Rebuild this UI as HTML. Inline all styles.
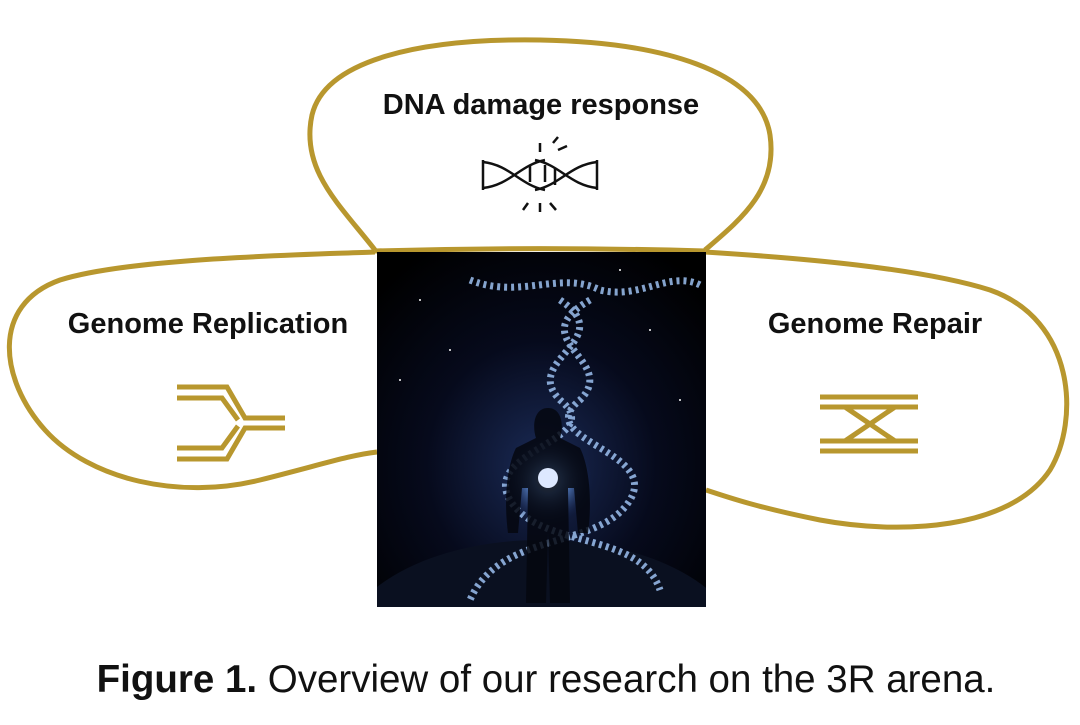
<!DOCTYPE html>
<html><head><style>
body{margin:0;width:1080px;height:720px;background:#fff;overflow:hidden;font-family:"Liberation Sans",sans-serif;}
</style></head><body>
<svg width="1080" height="720" viewBox="0 0 1080 720">
<defs>
<clipPath id="cp"><rect x="377" y="252" width="329" height="355"/></clipPath>
<radialGradient id="g1" cx="0.5" cy="0.6" r="0.7">
<stop offset="0" stop-color="#1a2a55"/><stop offset="0.5" stop-color="#060a1c"/><stop offset="1" stop-color="#000"/>
</radialGradient>
<radialGradient id="earth" cx="0.5" cy="1" r="0.6">
<stop offset="0" stop-color="#8a9aa8"/><stop offset="0.7" stop-color="#3a4a5a"/><stop offset="1" stop-color="#0a1020"/>
</radialGradient>
<radialGradient id="glow" cx="0.5" cy="0.5" r="0.5">
<stop offset="0" stop-color="#fff"/><stop offset="0.3" stop-color="#7ab0ff"/><stop offset="1" stop-color="#0a1840" stop-opacity="0"/>
</radialGradient>
</defs>
<g fill="none" stroke="#b8972e" stroke-width="5">
<path d="M375,250 C340,205 300,170 312,115 C325,60 420,38 540,40 C660,42 760,70 770,135 C778,190 740,220 705,250"/>
<path d="M375,252 C300,255 130,258 60,280 C-10,305 0,380 45,430 C90,480 180,500 260,480 C320,465 350,455 377,452"/>
<path d="M705,252 C800,258 920,268 990,290 C1075,320 1080,420 1050,470 C1010,530 900,535 820,520 C760,508 730,498 706,490"/>
<path d="M375,251 C480,248 600,248 705,251"/>
</g>
<g clip-path="url(#cp)">
<rect x="377" y="252" width="329" height="355" fill="url(#g1)"/>
<ellipse cx="541" cy="650" rx="200" ry="110" fill="url(#earth)"/>
<g fill="none" stroke="#9cc0f0" stroke-width="7" stroke-dasharray="3 4" opacity="0.85">
<path d="M470,280 C520,300 560,270 600,290 C640,300 670,270 700,285"/>
<path d="M560,300 C620,340 520,360 560,400 C610,440 480,450 510,500 C540,550 640,530 660,590"/>
<path d="M590,300 C520,340 620,360 580,400 C530,440 660,450 630,500 C600,550 500,530 470,600"/>
</g>
<circle cx="548" cy="480" r="45" fill="url(#glow)"/>
<path d="M548,408 c-14,0 -16,18 -12,30 l-20,10 c-10,20 -12,55 -8,85 l10,0 l4,-45 l6,0 l-2,115 l20,0 l2,-70 l2,70 l20,0 l-2,-115 l6,0 l4,45 l10,0 c4,-30 2,-65 -8,-85 l-20,-10 c4,-12 2,-30 -12,-30z" fill="#05070f" opacity="0.85"/>
<circle cx="548" cy="478" r="10" fill="#dde8ff"/>
<g fill="#fff">
<circle cx="420" cy="300" r="1"/><circle cx="650" cy="330" r="1"/><circle cx="400" cy="380" r="1"/><circle cx="680" cy="400" r="1"/><circle cx="450" cy="350" r="1"/><circle cx="620" cy="270" r="1"/>
</g>
</g>
<g stroke="#b8972e" stroke-width="5" fill="none">
<path d="M177,387 H227 L245,418 H285"/>
<path d="M177,398 H222 L238,420"/>
<path d="M177,459 H227 L245,428 H285"/>
<path d="M177,448 H222 L238,426"/>
<path d="M820,397 H918"/><path d="M820,407 H918"/>
<path d="M820,441 H918"/><path d="M820,451 H918"/>
<path d="M845,407 L895,441"/><path d="M895,407 L845,441"/>
</g>
<g stroke="#111" stroke-width="2.5" fill="none">
<path d="M483,160 V190 M597,160 V190"/>
<path d="M483,162 C510,165 520,185 545,190 M483,188 C510,185 520,165 545,160"/>
<path d="M597,162 C570,165 560,185 535,190 M597,188 C570,185 560,165 535,160"/>
<path d="M530,165 V182 M545,165 V182 M555,168 V185"/>
<path d="M540,143 V152 M553,143 L558,137 M558,150 L567,146"/>
<path d="M528,203 L523,210 M540,203 V212 M550,203 L556,210"/>
</g>
<g font-weight="bold" fill="#111" font-size="29" text-anchor="middle">
<text x="541" y="114">DNA damage response</text>
<text x="208" y="333">Genome Replication</text>
<text x="875" y="333">Genome Repair</text>
</g>
<text x="546" y="692" text-anchor="middle" font-size="38.5" fill="#111"><tspan font-weight="bold">Figure 1.</tspan> Overview of our research on the 3R arena.</text>
</svg>
</body></html>
